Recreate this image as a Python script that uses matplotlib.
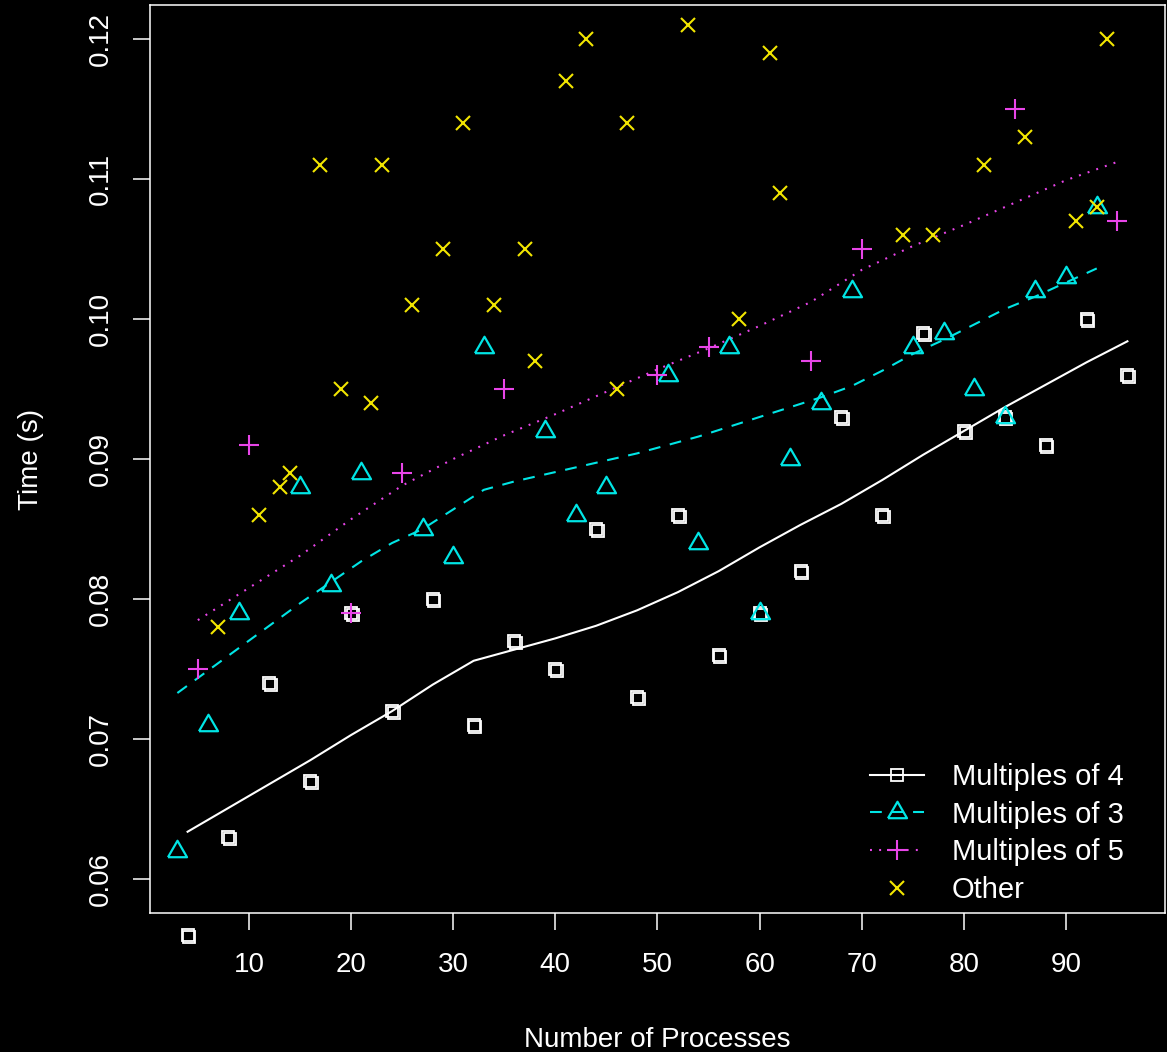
import numpy as np
import matplotlib
matplotlib.use('Agg')
import matplotlib.pyplot as plt
from matplotlib.transforms import offset_copy

plt.rcParams['font.family'] = ['Liberation Sans', 'DejaVu Sans']
plt.rcParams['lines.scale_dashes'] = False

# multiples of 4 (squares) and their smooth
x4 = [4, 8, 12, 16, 20, 24, 28, 32, 36, 40, 44, 48, 52, 56, 60, 64, 68, 72, 76, 80, 84, 88, 92, 96]
y4 = [0.056, 0.063, 0.074, 0.067, 0.079, 0.072, 0.080, 0.071, 0.077, 0.075, 0.085, 0.073,
      0.086, 0.076, 0.079, 0.082, 0.093, 0.086, 0.099, 0.092, 0.093, 0.091, 0.100, 0.096]
fit4 = [0.0634, 0.0651, 0.0668, 0.0685, 0.0703, 0.0720, 0.0739, 0.0756, 0.0764, 0.0772, 0.0781, 0.0792,
        0.0805, 0.0820, 0.0837, 0.0853, 0.0868, 0.0885, 0.0903, 0.0920, 0.0937, 0.0953, 0.0969, 0.0984]

# multiples of 3 (triangles)
x3 = [3, 6, 9, 15, 18, 21, 27, 30, 33, 39, 42, 45, 51, 54, 57, 60, 63, 66, 69, 75, 78, 81, 84, 87, 90, 93]
y3 = [0.062, 0.071, 0.079, 0.088, 0.081, 0.089, 0.085, 0.083, 0.098, 0.092, 0.086, 0.088, 0.096,
      0.084, 0.098, 0.079, 0.090, 0.094, 0.102, 0.098, 0.099, 0.095, 0.093, 0.102, 0.103, 0.108]
xfit3 = [3, 6, 9, 12, 15, 18, 21, 24, 27, 30, 33, 36, 39, 42, 45, 48, 51, 54, 57, 60, 63, 66, 69,
         72, 75, 78, 81, 84, 87, 90, 93]
fit3 = [0.0733, 0.0749, 0.0765, 0.0781, 0.0797, 0.0812, 0.0827, 0.0840, 0.0850, 0.0864, 0.0878,
        0.0884, 0.0889, 0.0894, 0.0899, 0.0904, 0.0910, 0.0916, 0.0923, 0.0930, 0.0937, 0.0944,
        0.0952, 0.0963, 0.0975, 0.0985, 0.0996, 0.1007, 0.1016, 0.1026, 0.1036]

# multiples of 5 (plus)
x5 = [5, 10, 20, 25, 35, 50, 55, 65, 70, 85, 95]
y5 = [0.075, 0.091, 0.079, 0.089, 0.095, 0.096, 0.098, 0.097, 0.105, 0.115, 0.107]
xfit5 = [5, 10, 15, 20, 25, 30, 35, 40, 45, 50, 55, 60, 65, 70, 75, 80, 85, 90, 95]
fit5 = [0.0785, 0.0808, 0.0831, 0.0857, 0.0881, 0.0900, 0.0917, 0.0932, 0.0948, 0.0964, 0.0979,
        0.0995, 0.1012, 0.1035, 0.1052, 0.1067, 0.1083, 0.1099, 0.1112]

# other
xo = [7, 11, 13, 14, 17, 19, 22, 23, 26, 29, 31, 34, 37, 38, 41, 43, 46, 47, 53, 58, 61, 62,
      74, 77, 82, 86, 91, 93, 94]
yo = [0.078, 0.086, 0.088, 0.089, 0.111, 0.095, 0.094, 0.111, 0.101, 0.105, 0.114, 0.101, 0.105,
      0.097, 0.117, 0.120, 0.095, 0.114, 0.121, 0.100, 0.119, 0.109, 0.106, 0.106, 0.111, 0.113,
      0.107, 0.108, 0.120]

WHITE = 'white'
CYAN = '#00E5E5'
MAGENTA = '#E845E8'
YELLOW = '#F2E600'

fig = plt.figure(figsize=(11.67, 10.52), dpi=100, facecolor='black')
ax = fig.add_axes([150 / 1167, 1 - 913 / 1052, 1015 / 1167, 908 / 1052], facecolor='black')

tri = [(-1, -0.6), (1, -0.6), (0, 1.13), (-1, -0.6)]
shadow = offset_copy(ax.transData, fig=fig, x=1.2, y=-1.2, units='points')

ax.plot(x4, fit4, color=WHITE, lw=1.5)
ax.plot(xfit3, fit3, color=CYAN, lw=1.5, linestyle=(0, (8.5, 7)))
ax.plot(xfit5, fit5, color=MAGENTA, lw=1.5, linestyle=(0, (1.4, 5.2)))

ax.plot(x4, y4, 's', ms=8.5, mfc='none', mec=WHITE, mew=1.3, transform=shadow, clip_on=False)
ax.plot(x4, y4, 's', ms=8.5, mfc='none', mec=WHITE, mew=1.3, clip_on=False)
ax.plot(x3, y3, linestyle='none', marker=tri, ms=15.5, mfc='none', mec=CYAN, mew=1.6, clip_on=False)
ax.plot(x5, y5, '+', ms=14.5, mec=MAGENTA, mew=1.5, clip_on=False)
ax.plot(xo, yo, 'x', ms=10.5, mec=YELLOW, mew=1.5, clip_on=False)

ax.set_xlim(0.32, 99.68)
ax.set_ylim(0.0576, 0.1224)
ax.set_xticks(np.arange(10, 100, 10))
ax.set_yticks(np.arange(0.06, 0.1201, 0.01))
ax.set_yticklabels(['0.06', '0.07', '0.08', '0.09', '0.10', '0.11', '0.12'], rotation=90, va='center')

for s in ax.spines.values():
    s.set_color(WHITE)
    s.set_linewidth(1.1)
ax.tick_params(colors=WHITE, labelsize=20, length=12, width=1.1, direction='out')
ax.tick_params(axis='x', pad=16)
ax.tick_params(axis='y', pad=14)

ax.set_xlabel('Number of Processes', fontsize=20, color=WHITE, va='center')
ax.xaxis.set_label_coords(0.5, -0.1400)
ax.set_ylabel('Time (s)', fontsize=20, color=WHITE, va='center')
ax.yaxis.set_label_coords(-0.1172, 0.5)

h4 = plt.Line2D([], [], color=WHITE, lw=1.5, marker='s', ms=8.5, mfc='none', mec=WHITE, mew=1.3)
h3 = plt.Line2D([], [], color=CYAN, lw=1.5, linestyle=(0, (8.5, 7)), marker=tri, ms=15.5,
                mfc='none', mec=CYAN, mew=1.6)
h5 = plt.Line2D([], [], color=MAGENTA, lw=1.5, linestyle=(0, (1.4, 5.2)), marker='+', ms=14.5,
                mec=MAGENTA, mew=1.5)
ho = plt.Line2D([], [], linestyle='none', marker='x', ms=10.5, mec=YELLOW, mew=1.5)
leg = ax.legend([h4, h3, h5, ho], ['Multiples of 4', 'Multiples of 3', 'Multiples of 5', 'Other'],
                loc='upper left', bbox_to_anchor=((870 - 150) / 1015, (913 - 763) / 908),
                frameon=False, fontsize=21, handlelength=1.85, handletextpad=0.95,
                labelspacing=0.33, borderpad=0, borderaxespad=0, numpoints=1)
for t in leg.get_texts():
    t.set_color(WHITE)

fig.savefig('out.png', dpi=100, facecolor='black')
